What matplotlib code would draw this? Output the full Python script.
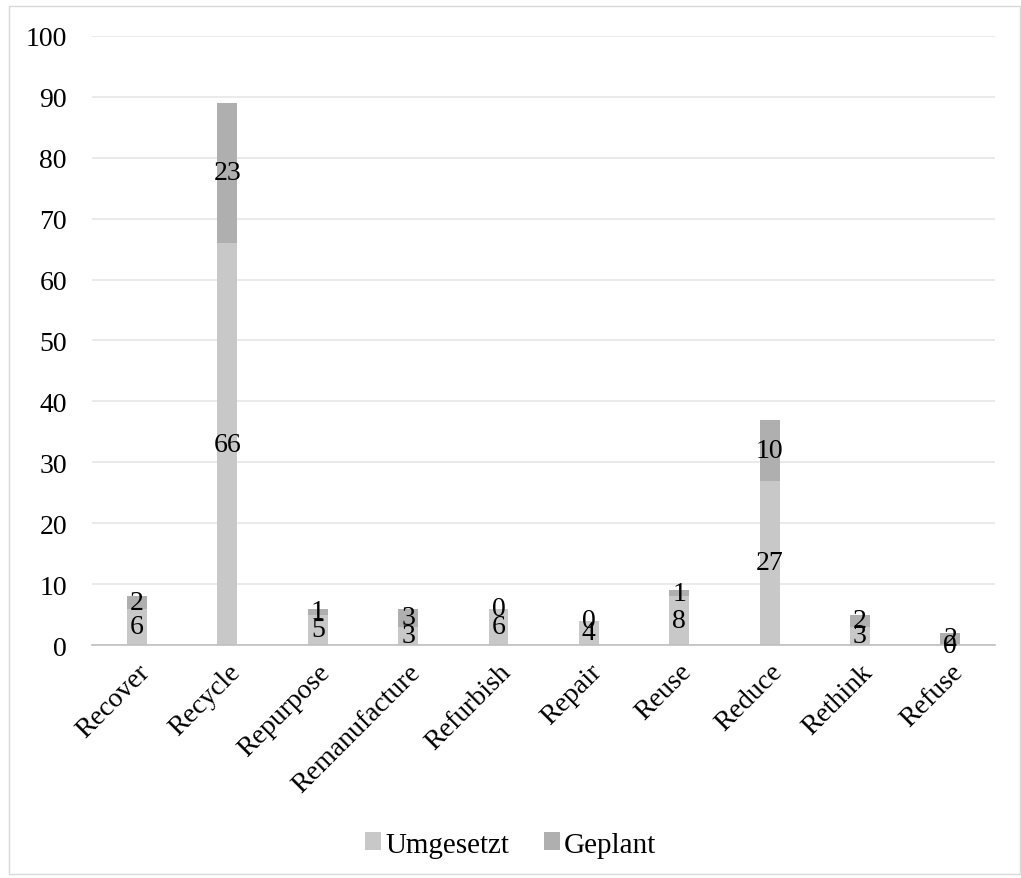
import matplotlib.pyplot as plt
import numpy as np
from matplotlib.patches import Rectangle

categories = ["Recover", "Recycle", "Repurpose", "Remanufacture", "Refurbish",
              "Repair", "Reuse", "Reduce", "Rethink", "Refuse"]
umgesetzt = [6, 66, 5, 3, 6, 4, 8, 27, 3, 0]
geplant = [2, 23, 1, 3, 0, 0, 1, 10, 2, 2]

plt.rcParams['font.family'] = ['Liberation Serif', 'DejaVu Serif']

fig = plt.figure(figsize=(10.21, 8.79), dpi=100)
ax = fig.add_axes([0.090, 0.265, 0.885, 0.693])

x = np.arange(len(categories))
u = np.array(umgesetzt)
g = np.array(geplant)
w = 0.22
ax.bar(x, u, w, color="#C8C8C8", label="Umgesetzt", zorder=2)
ax.bar(x, g, w, bottom=u, color="#AFAFAF", label="Geplant", zorder=2)

# value labels centred in each segment
for i in range(len(x)):
    ax.text(x[i], u[i] / 2, str(u[i]), ha="center", va="center", fontsize=20, zorder=3)
    ax.text(x[i], u[i] + g[i] / 2, str(g[i]), ha="center", va="center", fontsize=20, zorder=3)

ax.set_xlim(-0.5, len(categories) - 0.5)
ax.set_ylim(0, 100)
ax.set_yticks(np.arange(0, 101, 10))
ax.set_xticks(x)
ax.set_xticklabels(categories, rotation=45, ha="right", rotation_mode="anchor", fontsize=20)
ax.tick_params(axis="both", length=0, labelsize=20)
ax.tick_params(axis="y", pad=18)
ax.tick_params(axis="x", pad=10)
ax.grid(axis="y", color="#E6E6E6", lw=1.2, zorder=0)
for s in ["top", "right", "left"]:
    ax.spines[s].set_visible(False)
ax.spines["bottom"].set_color("#BFBFBF")
ax.spines["bottom"].set_linewidth(1.2)

fig.legend(loc="center", bbox_to_anchor=(0.5, 0.038), ncol=2, frameon=False,
           fontsize=21, handlelength=0.55, handleheight=0.55, handletextpad=0.15,
           columnspacing=1.2)

fig.patches.append(Rectangle((0.009, 0.004), 0.99, 0.988, transform=fig.transFigure,
                             fill=False, edgecolor="#D9D9D9", lw=1))

fig.savefig("out.png", dpi=100)
